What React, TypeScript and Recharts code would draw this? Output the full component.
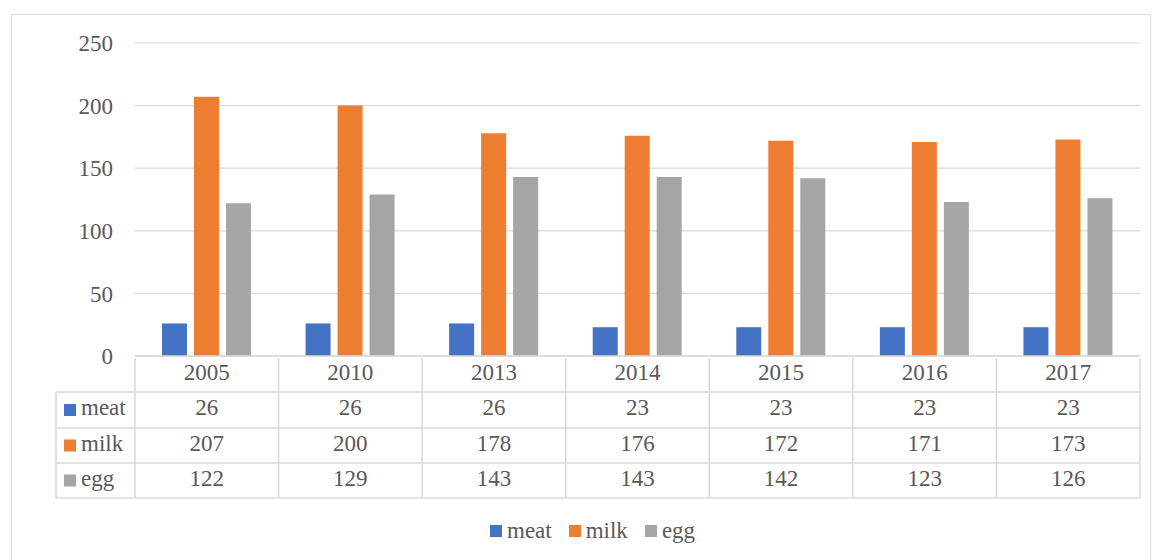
import { BarChart, Bar, XAxis, YAxis, CartesianGrid, Legend } from "recharts"

const YEARS = ["2005", "2010", "2013", "2014", "2015", "2016", "2017"]
const MEAT = [26, 26, 26, 23, 23, 23, 23]
const MILK = [207, 200, 178, 176, 172, 171, 173]
const EGG = [122, 129, 143, 143, 142, 123, 126]
const Y_TICKS = [0, 50, 100, 150, 200, 250]
const SERIES_NAMES = ["meat", "milk", "egg"]
const SERIES_VALUES = [MEAT, MILK, EGG]

const COLORS: Record<string, string> = {
  meat: "#4472C4",
  milk: "#ED7D31",
  egg: "#A5A5A5",
}

const FONT = "Liberation Serif, Tinos, Times New Roman, DejaVu Serif, serif"
const TEXT = "#595959"
const LINE = "#D9D9D9"

// row boundaries of the data table, measured down from the x axis
const ROW_EDGES = [0, 34, 70, 105, 140]
const LABEL_COL = 79
const TEXT_SHIFT = -2.5

const data = YEARS.map((year, i) => ({
  year,
  meat: MEAT[i],
  milk: MILK[i],
  egg: EGG[i],
}))

function TableTick(props: any) {
  const { x, y, payload, index, width } = props
  const bw = width ? width / YEARS.length : 143.6
  const left = x - bw / 2
  const right = x + bw / 2
  const i = payload?.index ?? index
  const bottom = y + ROW_EDGES[ROW_EDGES.length - 1]

  return (
    <g fontFamily={FONT} fontSize={23} fill={TEXT}>
      <text
        x={x}
        y={y + (ROW_EDGES[0] + ROW_EDGES[1]) / 2 + TEXT_SHIFT}
        textAnchor="middle"
        dominantBaseline="central"
        fill={TEXT}
      >
        {payload.value}
      </text>
      {SERIES_VALUES.map((vals, r) => (
        <text
          key={r}
          x={x}
          y={y + (ROW_EDGES[r + 1] + ROW_EDGES[r + 2]) / 2 + TEXT_SHIFT}
          textAnchor="middle"
          dominantBaseline="central"
          fill={TEXT}
        >
          {vals[i]}
        </text>
      ))}
      <line x1={right} x2={right} y1={y} y2={bottom} stroke={LINE} strokeWidth={1.5} />
      {ROW_EDGES.slice(1).map((e) => (
        <line key={e} x1={left} x2={right} y1={y + e} y2={y + e} stroke={LINE} strokeWidth={1.5} />
      ))}
      {i === 0 && (
        <g>
          <line x1={left} x2={left} y1={y} y2={bottom} stroke={LINE} strokeWidth={1.5} />
          <line x1={left - LABEL_COL} x2={left - LABEL_COL} y1={y + ROW_EDGES[1]} y2={bottom} stroke={LINE} strokeWidth={1.5} />
          {ROW_EDGES.slice(1).map((e) => (
            <line key={e} x1={left - LABEL_COL} x2={left} y1={y + e} y2={y + e} stroke={LINE} strokeWidth={1.5} />
          ))}
          {SERIES_NAMES.map((name, r) => {
            const cy = y + (ROW_EDGES[r + 1] + ROW_EDGES[r + 2]) / 2
            return (
              <g key={name}>
                <rect x={left - LABEL_COL + 8} y={cy - 6} width={12} height={12} fill={COLORS[name]} />
                <text x={left - LABEL_COL + 25} y={cy + TEXT_SHIFT} dominantBaseline="central" fill={TEXT}>
                  {name}
                </text>
              </g>
            )
          })}
        </g>
      )}
    </g>
  )
}

function LegendContent(props: any) {
  const items = [...(props.payload ?? [])].sort(
    (a: any, b: any) => SERIES_NAMES.indexOf(a.value) - SERIES_NAMES.indexOf(b.value)
  )
  return (
    <div style={{ display: "flex", gap: 17, fontFamily: FONT, fontSize: 23, color: TEXT, lineHeight: "26px" }}>
      {items.map((it: any) => (
        <span key={it.value} style={{ display: "flex", alignItems: "center" }}>
          <span style={{ width: 12, height: 12, background: it.color, marginRight: 5, display: "inline-block" }} />
          {it.value}
        </span>
      ))}
    </div>
  )
}

export default function App() {
  return (
    <div style={{ position: "absolute", left: 0, top: 0, width: 1155, height: 560, background: "#fff", overflow: "hidden", fontFamily: FONT }}>
      <div
        style={{
          position: "absolute",
          left: 11,
          top: 14,
          width: 1140,
          height: 600,
          border: `1.5px solid ${LINE}`,
          boxSizing: "border-box",
        }}
      />
      <div style={{ position: "absolute", left: 0, top: 0 }}>
        <BarChart
          width={1155}
          height={560}
          data={data}
          margin={{ top: 43, right: 15, left: 0, bottom: 64 }}
          barSize={25}
          barGap={7}
        >
          <CartesianGrid vertical={false} stroke={LINE} strokeWidth={1.2} />
          <XAxis
            dataKey="year"
            height={140}
            interval={0}
            tickSize={0}
            tickLine={false}
            axisLine={{ stroke: LINE, strokeWidth: 1.5 }}
            tick={<TableTick />}
          />
          <YAxis
            width={135}
            domain={[0, 250]}
            ticks={Y_TICKS}
            tickSize={0}
            tickMargin={22}
            tickLine={false}
            axisLine={false}
            tick={{ fontFamily: FONT, fontSize: 23, fill: TEXT }}
          />
          <Legend
            verticalAlign="middle"
            align="center"
            layout="horizontal"
            wrapperStyle={{ top: 518, left: 490, width: 400 }}
            content={<LegendContent />}
          />
          {SERIES_NAMES.map((name) => (
            <Bar key={name} dataKey={name} name={name} fill={COLORS[name]} isAnimationActive={false} />
          ))}
        </BarChart>
      </div>
    </div>
  )
}
